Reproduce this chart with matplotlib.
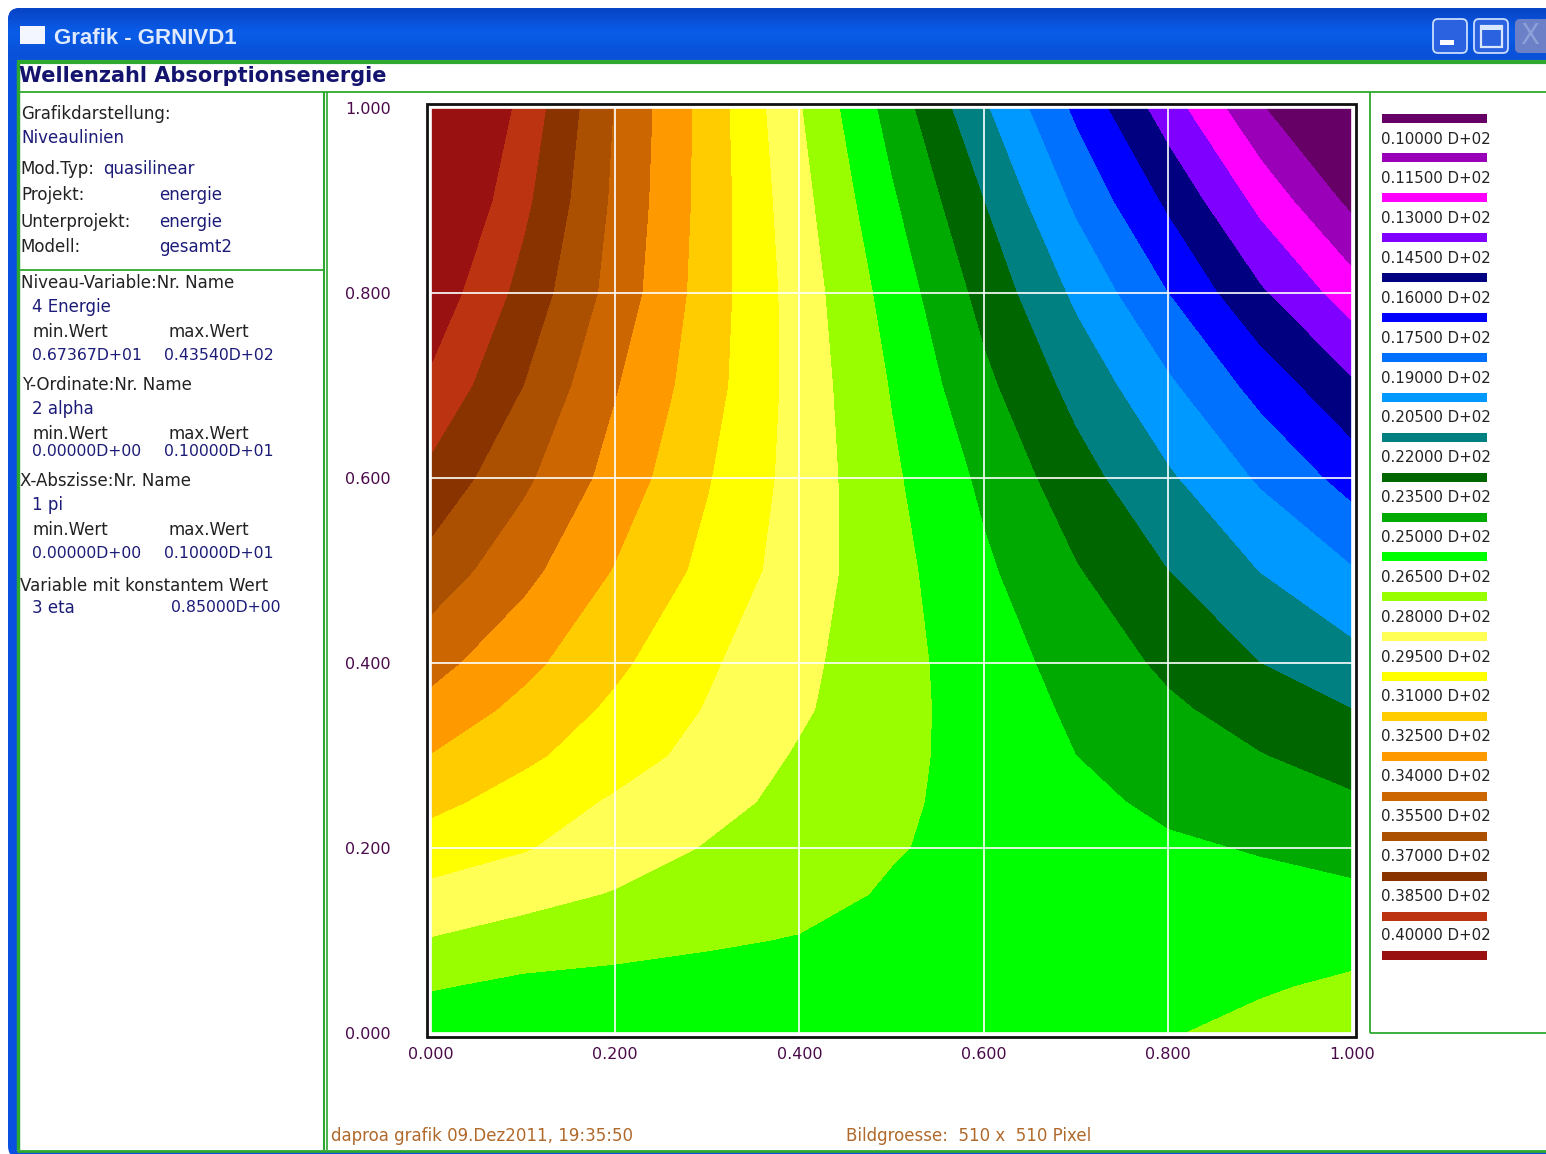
import numpy as np
import matplotlib
matplotlib.use('Agg')
import matplotlib.pyplot as plt
from matplotlib.colors import LinearSegmentedColormap
from matplotlib.patches import Rectangle, FancyBboxPatch

W, H = 1546, 1154

# contour grid, rows go from alpha=0 up to alpha=1
pi_vals = [0.0, 0.1, 0.2, 0.3, 0.4, 0.5, 0.6, 0.7, 0.8, 0.9, 1.0]
alpha_vals = [0.0, 0.05, 0.1, 0.15, 0.2, 0.25, 0.3, 0.35, 0.4, 0.5, 0.6, 0.7, 0.8, 0.9, 1.0]
energie = [
    [25.5, 25.5, 25.5, 25.5, 25.6, 25.7, 25.8, 26.0, 26.4, 26.9, 27.35],
    [26.6, 26.15, 26.05, 25.95, 25.95, 25.9, 25.9, 25.95, 26.1, 26.35, 26.75],
    [27.9, 27.35, 26.97, 26.66, 26.42, 26.2, 26.0, 25.9, 25.85, 25.9, 26.0],
    [29.1, 28.5, 27.9, 27.4, 26.95, 26.35, 26.05, 25.75, 25.55, 25.4, 25.25],
    [30.25, 29.6, 28.75, 27.9, 27.25, 26.6, 26.1, 25.65, 25.2, 24.9, 24.5],
    [31.4, 30.35, 29.3, 28.45, 27.6, 26.75, 26.05, 25.35, 24.7, 24.2, 23.7],
    [32.45, 31.3, 30.15, 29.0, 27.85, 26.9, 25.95, 25.0, 24.3, 23.55, 22.85],
    [33.5, 32.1, 30.7, 29.4, 28.2, 27.0, 25.85, 24.75, 23.75, 22.85, 22.0],
    [34.5, 32.9, 31.3, 29.7, 28.35, 27.05, 25.7, 24.45, 23.2, 22.0, 21.0],
    [36.4, 34.45, 32.4, 30.6, 28.75, 27.0, 25.25, 23.6, 22.0, 20.45, 19.1],
    [38.07, 35.8, 33.4, 31.1, 28.9, 26.75, 24.7, 22.6, 20.7, 18.8, 16.9],
    [39.7, 37.0, 34.1, 31.6, 28.9, 26.4, 23.85, 21.5, 19.25, 16.95, 14.7],
    [41.0, 38.0, 34.9, 31.8, 28.8, 25.9, 23.0, 20.2, 17.5, 14.7, 12.2],
    [42.25, 38.85, 35.2, 31.9, 28.5, 25.2, 22.0, 18.7, 15.7, 12.55, 9.6],
    [43.5, 39.5, 35.4, 31.9, 28.1, 24.4, 20.7, 17.2, 13.7, 10.2, 6.75],
]

levels = [10.0, 11.5, 13.0, 14.5, 16.0, 17.5, 19.0, 20.5, 22.0, 23.5, 25.0,
          26.5, 28.0, 29.5, 31.0, 32.5, 34.0, 35.5, 37.0, 38.5, 40.0]
band_colors = ['#660066', '#9900b8', '#ff00ff', '#7f00ff', '#000080', '#0000ff',
               '#0070ff', '#0099ff', '#008080', '#006600', '#00aa00', '#00ff00',
               '#99ff00', '#ffff55', '#ffff00', '#ffcc00', '#ff9900', '#cc6600',
               '#aa5000', '#883300', '#bb3311', '#991111']
ticks = [0.0, 0.2, 0.4, 0.6, 0.8, 1.0]

NAVY = '#1c1c78'
DARK = '#222222'
info_lines = [
    (21, 114, 'Grafikdarstellung:', DARK),
    (21, 138, 'Niveaulinien', NAVY),
    (20, 169, 'Mod.Typ:', DARK),
    (103, 169, 'quasilinear', NAVY),
    (21, 195, 'Projekt:', DARK),
    (159, 195, 'energie', NAVY),
    (21, 222, 'Unterprojekt:', DARK),
    (159, 222, 'energie', NAVY),
    (20, 247, 'Modell:', DARK),
    (159, 247, 'gesamt2', NAVY),
    (21, 283, 'Niveau-Variable:Nr. Name', DARK),
    (32, 307, '4 Energie', NAVY),
    (32, 332, 'min.Wert', DARK),
    (168, 332, 'max.Wert', DARK),
    (32, 356, '0.67367D+01', NAVY),
    (164, 356, '0.43540D+02', NAVY),
    (22, 385, 'Y-Ordinate:Nr. Name', DARK),
    (32, 409, '2 alpha', NAVY),
    (32, 434, 'min.Wert', DARK),
    (168, 434, 'max.Wert', DARK),
    (32, 452, '0.00000D+00', NAVY),
    (164, 452, '0.10000D+01', NAVY),
    (20, 481, 'X-Abszisse:Nr. Name', DARK),
    (32, 505, '1 pi', NAVY),
    (32, 530, 'min.Wert', DARK),
    (168, 530, 'max.Wert', DARK),
    (32, 554, '0.00000D+00', NAVY),
    (164, 554, '0.10000D+01', NAVY),
    (20, 586, 'Variable mit konstantem Wert', DARK),
    (32, 608, '3 eta', NAVY),
    (171, 608, '0.85000D+00', NAVY),
]

plt.rcParams['font.family'] = 'DejaVu Sans'
fig = plt.figure(figsize=(W / 100, H / 100), dpi=100, facecolor='white')

# pixel-coordinate layer for the window chrome and all the loose text
bg = fig.add_axes([0, 0, 1, 1])
bg.axis('off')

# window frame and title bar
shade = np.array([0.0, 0.25, 0.5, 0.8, 1.0, 0.9, 0.75, 0.6, 0.5, 0.55]).reshape(-1, 1)
frame = FancyBboxPatch((8, 8), W + 40, H - 4, boxstyle='round,pad=0,rounding_size=12',
                       fc='#0a50e0', ec='none', zorder=1)
bg.add_patch(frame)
bar = bg.imshow(shade, extent=(8, W, 62, 8),
                cmap=LinearSegmentedColormap.from_list('xp', ['#0846c8', '#0a5ce8']),
                aspect='auto', zorder=2, interpolation='bilinear')
bar.set_clip_path(frame)
bg.set_xlim(0, W)
bg.set_ylim(H, 0)
bg.add_patch(Rectangle((17, 60), W, H - 60 - 3, fc='white', ec='none', zorder=3))

# green separators
GREEN = '#2ea82e'
for x0, y0, x1, y1, lw in [(17, 62, W, 62, 3), (18, 62, 18, 1150, 2.5), (17, 92, W, 92, 1.3),
                           (18, 270, 324, 270, 1.3), (324, 92, 324, 1150, 1.5),
                           (327, 92, 327, 1150, 1.2), (1370, 92, 1370, 1033, 1.3),
                           (1370, 1033, W, 1033, 1.3), (17, 1151, W, 1151, 2)]:
    bg.plot([x0, x1], [y0, y1], color=GREEN, lw=lw, zorder=4, solid_capstyle='butt')

# title bar contents
bg.add_patch(Rectangle((20, 26), 25, 18, fc='#f4f6ff', ec='none', zorder=5))
bg.text(54, 38, 'Grafik - GRNIVD1', color='#dfeaff', fontsize=16, family='Liberation Sans',
        fontweight='bold', va='center', zorder=5)
for bx in [1433, 1474]:
    bg.add_patch(FancyBboxPatch((bx, 19), 34, 34, boxstyle='round,pad=0,rounding_size=5',
                                fc='#2a62e0', ec='#c8dcff', lw=1.3, zorder=5))
bg.add_patch(Rectangle((1440, 40), 14, 5, fc='white', ec='none', zorder=6))
bg.add_patch(Rectangle((1481, 26), 21, 21, fc='none', ec='#d8e6ff', lw=1.6, zorder=6))
bg.add_patch(Rectangle((1481, 26), 21, 4, fc='#d8e6ff', ec='none', zorder=6))
bg.add_patch(FancyBboxPatch((1515, 19), 40, 34, boxstyle='round,pad=0,rounding_size=5',
                            fc='#6c80c8', ec='none', zorder=5))
bg.text(1530, 36, 'X', color='#8ea0d8', fontsize=20, ha='center', va='center', zorder=6)

bg.text(19, 76, 'Wellenzahl Absorptionsenergie', color='#14146e', fontsize=15,
        fontweight='bold', va='center', zorder=5)

for x, y, s, c in info_lines:
    size = 11.3 if s.startswith('0.') else 12
    bg.text(x, y, s, color=c, fontsize=size, va='center', zorder=5)

bg.text(331, 1136, 'daproa grafik 09.Dez2011, 19:35:50', color='#b0692a', fontsize=12,
        va='center', zorder=5)
bg.text(846, 1136, 'Bildgroesse:  510 x  510 Pixel', color='#b0692a', fontsize=12,
        va='center', zorder=5)

# black frame around the plot
bg.add_patch(Rectangle((427, 104), 929, 933, fc='white', ec='#111111', lw=2, zorder=5))

# legend column
for i, c in enumerate(band_colors):
    bg.add_patch(Rectangle((1382, 113.5 + i * 39.9), 105, 9, fc=c, ec='none', zorder=5))
for i, lev in enumerate(levels):
    bg.text(1381, 139 + i * 39.85, '0.%05d D+02' % round(lev * 1000), color=DARK,
            fontsize=10.8, va='center', zorder=5)

# the contour plot itself
ax = fig.add_axes([431 / W, 1 - 1033 / H, 921 / W, 925 / H], zorder=10)
z = np.array(energie)
bounds = [z.min() - 1] + levels + [z.max() + 1]
ax.contourf(pi_vals, alpha_vals, z, levels=bounds, colors=band_colors)
ax.set_xlim(0, 1)
ax.set_ylim(0, 1)
ax.set_xticks(ticks)
ax.set_yticks(ticks)
ax.set_xticklabels(['%.3f' % t for t in ticks])
ax.set_yticklabels(['%.3f' % t for t in ticks])
ax.tick_params(length=0, labelsize=11.5, labelcolor='#4a0a4a')
ax.tick_params(axis='x', pad=10)
ax.tick_params(axis='y', pad=29)
ax.grid(True, color='white', lw=1.2)
ax.set_axisbelow(False)
for spine in ax.spines.values():
    spine.set_visible(False)

fig.savefig('out.png', dpi=100)
